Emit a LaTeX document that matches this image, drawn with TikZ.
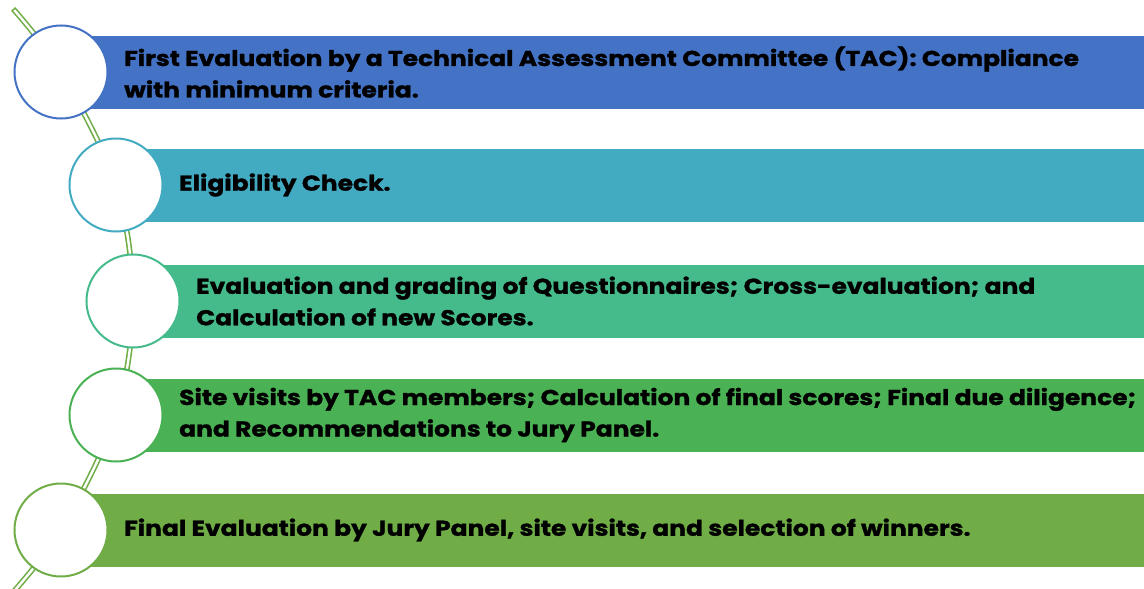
\documentclass[tikz,border=0pt]{standalone}
\usepackage{fontspec}
\setmainfont{Poppins}[FakeStretch=1.16, BoldFeatures={FakeBold=1.2}]
\usetikzlibrary{positioning}
\definecolor{barA}{HTML}{4472C4}
\definecolor{barB}{HTML}{43ABC1}
\definecolor{barC}{HTML}{45BB8C}
\definecolor{barD}{HTML}{4AB254}
\definecolor{barE}{HTML}{70AD47}
\begin{document}
\begin{tikzpicture}[x=1pt, y=-1pt,
  spine/.style = {draw=barE, line width=1.6pt,
    double=white, double distance=2.4pt, line cap=rect},
  bar/.style = {anchor=west, minimum height=73pt,
    inner sep=0pt},
  stepcirc/.style = {shape=circle, draw, fill=white,
    line width=2pt, minimum size=93pt, inner sep=0pt},
  txt/.style = {anchor=west, inner sep=0pt, align=left,
    font=\bfseries\fontsize{21.5}{31.5}\selectfont}]
\useasboundingbox (0,0) rectangle (1144,589);
\coordinate (top) at (15,11);
\coordinate (bot) at (8,598);
\coordinate (c1) at (61,72);
\coordinate (c2) at (116,185);
\coordinate (c3) at (133,301);
\coordinate (c4) at (116,415);
\coordinate (c5) at (61,530);
\draw[spine] plot[smooth, tension=0.55] coordinates {(top) (c1) (c2) (c3) (c4) (c5) (bot)};
\node[bar, fill=barA, minimum width=1083pt] (bar1) at (c1) {};
\node[bar, fill=barB, minimum width=1028pt] (bar2) at (c2) {};
\node[bar, fill=barC, minimum width=1011pt] (bar3) at (c3) {};
\node[bar, fill=barD, minimum width=1028pt] (bar4) at (c4) {};
\node[bar, fill=barE, minimum width=1083pt] (bar5) at (c5) {};
\node[stepcirc, draw=barA] (circ1) at (c1) {};
\node[stepcirc, draw=barB] (circ2) at (c2) {};
\node[stepcirc, draw=barC] (circ3) at (c3) {};
\node[stepcirc, draw=barD] (circ4) at (c4) {};
\node[stepcirc, draw=barE] (circ5) at (c5) {};
\node[txt, right=15.5pt of circ1] (txt1) {First Evaluation by a Technical Assessment Committee (TAC): Compliance\\with minimum criteria.};
\node[txt, right=15.5pt of circ2] (txt2) {Eligibility Check.};
\node[txt, right=15.5pt of circ3] (txt3) {Evaluation and grading of Questionnaires; Cross-evaluation; and\\Calculation of new Scores.};
\node[txt, right=15.5pt of circ4] (txt4) {Site visits by TAC members; Calculation of final scores; Final due diligence;\\and Recommendations to Jury Panel.};
\node[txt, right=15.5pt of circ5] (txt5) {Final Evaluation by Jury Panel, site visits, and selection of winners.};
\end{tikzpicture}
\end{document}
